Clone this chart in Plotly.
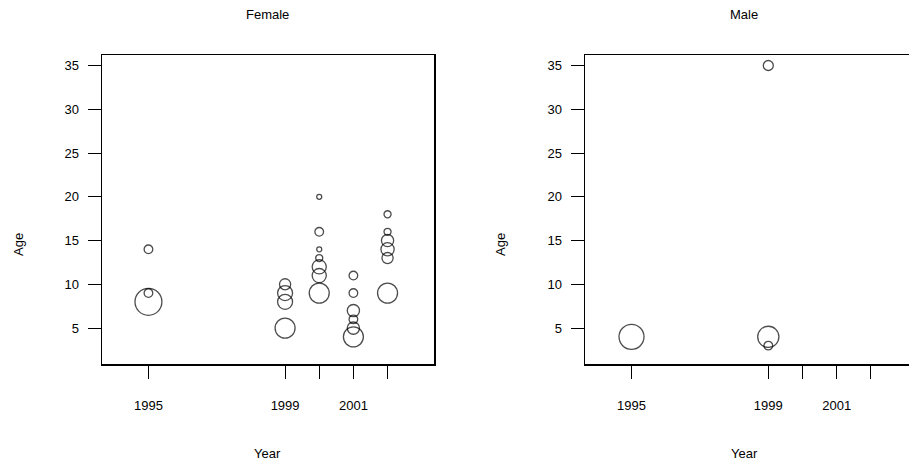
import numpy as np
import plotly.graph_objects as go

# ---- data ----
female_year = [1995, 1995, 1995,
               1999, 1999, 1999, 1999,
               2000, 2000, 2000, 2000, 2000, 2000, 2000,
               2001, 2001, 2001, 2001, 2001, 2001,
               2002, 2002, 2002, 2002, 2002, 2002]
female_age = [14, 9, 8,
              10, 9, 8, 5,
              20, 16, 14, 13, 12, 11, 9,
              11, 9, 7, 6, 5, 4,
              18, 16, 15, 14, 13, 9]
female_n = [3, 3, 29,
            5, 9, 9, 16,
            1, 3, 1, 2, 8, 8, 16,
            3, 3, 6, 3, 6, 16,
            2, 2, 6, 7, 5, 16]

male_year = [1995, 1999, 1999, 1999]
male_age = [4, 4, 3, 35]
male_n = [25, 18, 3, 4]

year_ticks = [1995, 1999, 2000, 2001, 2002]
year_labels = ["1995", "1999", "", "2001", ""]
age_ticks = [5, 10, 15, 20, 25, 30, 35]

W, H = 909, 468
FONT = "Liberation Sans, Arial, sans-serif"
FS = 13

def px_x(p):
    return p / W

def px_y(p):
    return 1 - p / H

def diam(n):
    return 5 * np.sqrt(np.array(n, dtype=float))

fig = go.Figure()
fig.add_trace(go.Scatter(x=female_year, y=female_age, mode="markers",
                         marker=dict(symbol="circle-open", size=diam(female_n),
                                     color="black", line=dict(width=1.3, color="black")),
                         xaxis="x", yaxis="y", showlegend=False))
fig.add_trace(go.Scatter(x=male_year, y=male_age, mode="markers",
                         marker=dict(symbol="circle-open", size=diam(male_n),
                                     color="black", line=dict(width=1.3, color="black")),
                         xaxis="x2", yaxis="y2", showlegend=False))

ydom = [px_y(364), px_y(55)]
yrange = [0.9, 36.2]
common_axis = dict(showgrid=False, zeroline=False, showline=True, linecolor="black",
                   linewidth=1.5, ticks="outside", ticklen=13, tickwidth=1,
                   tickcolor="black", tickfont=dict(family=FONT, size=FS, color="black"))

fig.update_layout(
    width=W, height=H,
    margin=dict(l=0, r=0, t=0, b=0),
    paper_bgcolor="white", plot_bgcolor="white",
    xaxis=dict(domain=[px_x(102), px_x(434)], range=[1993.64, 2003.36],
               tickvals=year_ticks, ticktext=year_labels, mirror=True,
               ticklabelstandoff=16, anchor="y", **common_axis),
    yaxis=dict(domain=ydom, range=yrange, tickvals=age_ticks, mirror=True,
               ticklabelstandoff=6, anchor="x", **common_axis),
    xaxis2=dict(domain=[px_x(585), 1.0], range=[1993.64, 1993.64 + (909 - 585) / 34.2],
                tickvals=year_ticks, ticktext=year_labels, mirror=True,
                ticklabelstandoff=16, anchor="y2", **common_axis),
    yaxis2=dict(domain=ydom, range=yrange, tickvals=age_ticks, mirror=False,
                ticklabelstandoff=6, anchor="x2", **common_axis),
    font=dict(family=FONT, size=FS, color="black"),
)

def ann(text, x, y, angle=0):
    fig.add_annotation(text=text, x=px_x(x), y=px_y(y), xref="paper", yref="paper",
                       showarrow=False, textangle=angle, xanchor="center", yanchor="middle",
                       font=dict(family=FONT, size=FS, color="black"))

ann("Female", 267, 15)
ann("Male", 744, 15)
ann("Year", 267, 453)
ann("Year", 744, 453)
ann("Age", 18, 245, -90)
ann("Age", 500, 245, -90)

fig.write_html("out.html", config={"displayModeBar": False, "staticPlot": True},
               post_script="document.body.style.margin='0';document.body.style.overflow='hidden';")
